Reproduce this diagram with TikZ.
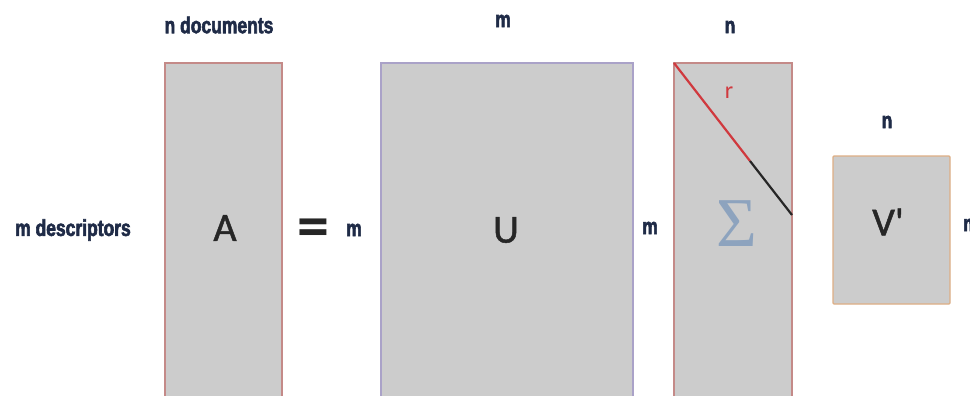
\documentclass[tikz,border=0pt]{standalone}
\usepackage{fontspec}
\setmainfont{Carlito}
\newfontfamily\condfont[FakeStretch=0.76,FakeBold=2.5]{Liberation Sans}
\newfontfamily\bigfont[FakeBold=1.2]{Carlito}
\newfontfamily\sigfont{Liberation Serif}
\definecolor{navy}{HTML}{1F2B47}
\definecolor{cellgray}{HTML}{CCCCCC}
\definecolor{redborder}{HTML}{C48A88}
\definecolor{lavborder}{HTML}{AAA2C8}
\definecolor{orgborder}{HTML}{DDAE84}
\definecolor{diagred}{HTML}{D0393E}
\definecolor{sigblue}{HTML}{8DA3BE}
\begin{document}
\begin{tikzpicture}[x=1pt,y=-1pt,
  lbl/.style={text=navy,font=\condfont\bfseries\fontsize{23}{23}\selectfont,inner sep=0pt},
  mat/.style={fill=cellgray,line width=1.3pt},
  big/.style={text=black!85,font=\bigfont\fontsize{40}{40}\selectfont,inner sep=0pt}]
\useasboundingbox (0,0) rectangle (970,396);
\begin{scope}
\clip (0,0) rectangle (970,396);
\draw[mat,draw=redborder] (165,63) rectangle (282,420);
\draw[mat,draw=lavborder] (381,63) rectangle (633,420);
\draw[mat,draw=redborder] (674,63) rectangle (792,420);
\draw[mat,draw=orgborder,rounded corners=1pt] (833,156) rectangle (950,304);
\coordinate (d0) at (674,63);
\coordinate (d1) at (750,161);
\coordinate (d2) at (792,215);
\draw[diagred,line width=2.2pt] (d0) -- (d1);
\draw[black!85,line width=2.2pt] (d1) -- (d2);
\node[lbl] (nd) at (219,25) {n documents};
\node[lbl] (m1) at (503,21) {m};
\node[lbl] (n1) at (730,27) {n};
\node[lbl] (n2) at (887,122) {n};
\node[lbl] (md) at (73,230) {m descriptors};
\node[lbl] (m2) at (354,230) {m};
\node[lbl] (m3) at (650,228) {m};
\node[lbl,anchor=west] (m4) at (963,225) {m};
\node[big] (A) at (225,228) {A};
\node[big] (U) at (506,230) {U};
\node[big] (V) at (888,222) {V'};
\node[text=black!85,inner sep=0pt,font=\fontsize{64}{64}\selectfont\bfseries] (eq) at (313,233) {=};
\node[text=diagred,inner sep=0pt,font=\fontsize{24}{24}\selectfont] (r) at (729,93) {r};
\node[text=sigblue,inner sep=0pt,font=\sigfont\fontsize{70}{70}\selectfont] (S) at (737,224) {Σ};
\end{scope}
\end{tikzpicture}
\end{document}
